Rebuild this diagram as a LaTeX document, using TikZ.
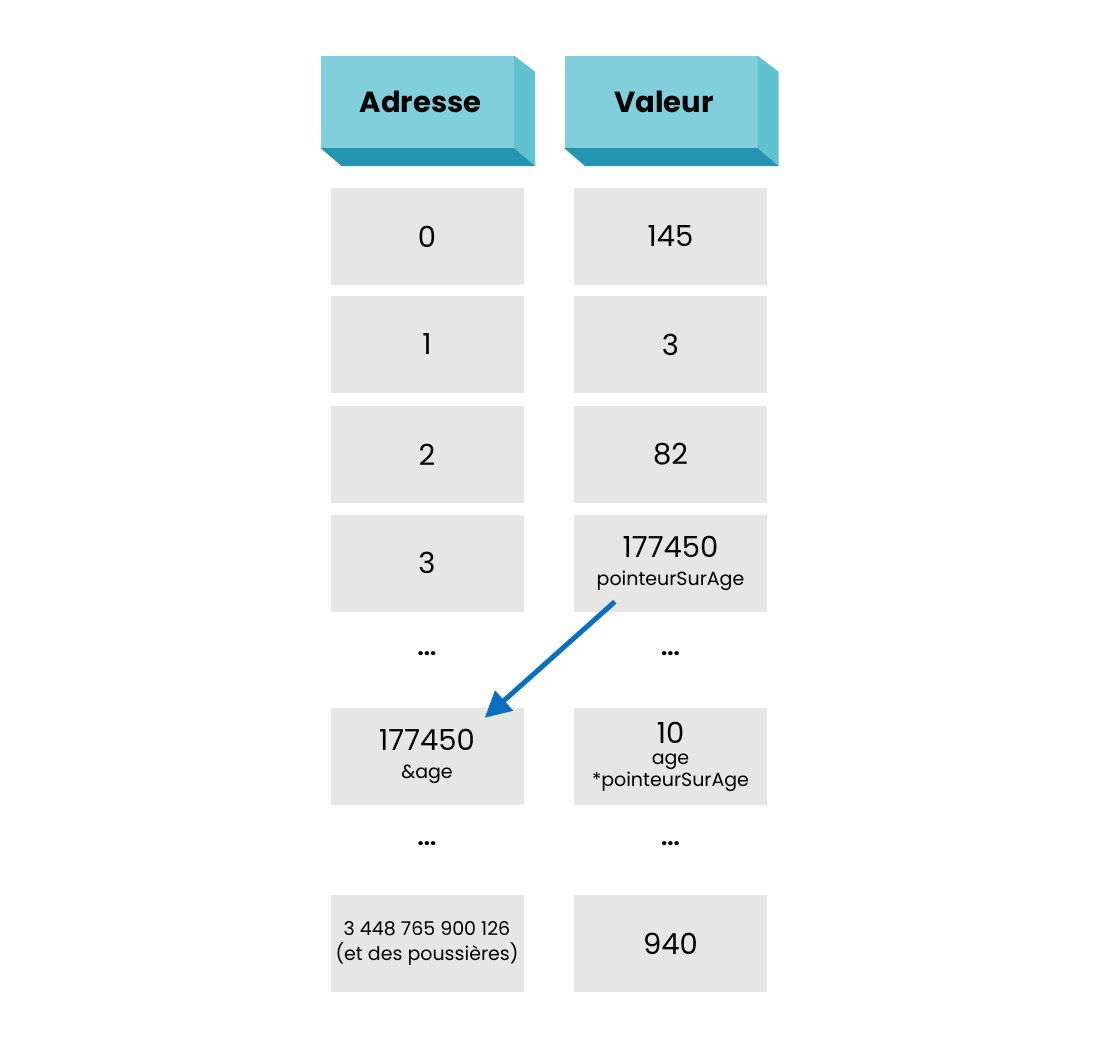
\documentclass[tikz,border=0pt]{standalone}
\usepackage{fontspec}
\setmainfont{Poppins}
\usetikzlibrary{arrows.meta,calc}
\definecolor{headfront}{HTML}{81CFDD}
\definecolor{headside}{HTML}{60C1CF}
\definecolor{headbottom}{HTML}{2594B0}
\definecolor{cellgray}{HTML}{E6E6E6}
\definecolor{ptrblue}{HTML}{0A70BE}
\newcommand{\bigfont}{\fontsize{29}{32}\selectfont}
\newcommand{\smallfont}{\fontsize{19}{22}\selectfont}
\begin{document}
\begin{tikzpicture}[x=1pt, y=-1pt,
  header/.style = {fill=headfront, minimum width=193pt, minimum height=92pt,
    inner sep=0pt, font=\bigfont\bfseries},
  cell/.style = {fill=cellgray, minimum width=193pt, minimum height=97pt,
    inner sep=0pt, align=center, font=\bigfont},
  dots/.style = {font=\fontsize{22}{24}\selectfont\bfseries},
  pointer/.style = {draw=ptrblue, line width=5pt,
    -{Triangle[length=26pt, width=26pt]}}
  ]
  \useasboundingbox (0,0) rectangle (1100,1054);
  % headers
  \node[header] (hadr) at (417.5,102) {\hspace{6pt}Adresse};
  \node[header] (hval) at (661,102) {\hspace{6pt}Valeur};
  \fill[headside] (hadr.north east) -- ++(21,16) -- ($(hadr.south east)+(21,18)$) -- (hadr.south east) -- cycle;
  \fill[headbottom] (hadr.south west) -- (hadr.south east) -- ++(21,18) -- ($(hadr.south west)+(21,18)$) -- cycle;
  \fill[headside] (hval.north east) -- ++(21,16) -- ($(hval.south east)+(21,18)$) -- (hval.south east) -- cycle;
  \fill[headbottom] (hval.south west) -- (hval.south east) -- ++(21,18) -- ($(hval.south west)+(21,18)$) -- cycle;
  % adresses
  \node[cell] (a0) at (427,236.5) {0};
  \node[cell] (a1) at (427,344.5) {1};
  \node[cell] (a2) at (427,454.5) {2};
  \node[cell] (a3) at (427,563) {3};
  \node[dots] (adots1) at (427,654) {...};
  \node[cell] (a4) at (427,756.5) {177450\\[-4pt]\smallfont \&age};
  \node[dots] (adots2) at (427,844) {...};
  \node[cell] (a5) at (427,943.5) {\smallfont 3 448 765 900 126\\[-7pt]\smallfont (et des poussières)};
  % valeurs
  \node[cell] (v0) at (670.5,236.5) {145};
  \node[cell] (v1) at (670.5,344.5) {3};
  \node[cell] (v2) at (670.5,454.5) {82};
  \node[cell] (v3) at (670.5,563) {177450\\[-4pt]\smallfont pointeurSurAge};
  \node[dots] (vdots1) at (670.5,654) {...};
  \node[cell] (v4) at (670.5,756.5) {10\\[-11pt]\smallfont age\\[-10pt]\smallfont *pointeurSurAge};
  \node[dots] (vdots2) at (670.5,844) {...};
  \node[cell] (v5) at (670.5,943.5) {940};
  % pointeur
  \coordinate (ptrstart) at ($(v3.south west)+(41,-10)$);
  \coordinate (ptrend) at ($(a4.north east)+(-39,10)$);
  \draw[pointer] (ptrstart) -- (ptrend);
\end{tikzpicture}
\end{document}
